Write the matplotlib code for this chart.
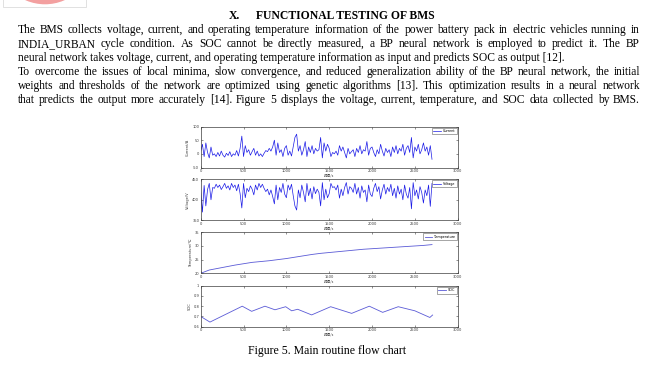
import matplotlib
matplotlib.use("Agg")
import matplotlib.pyplot as plt
from matplotlib.patches import Ellipse, Rectangle

# =====================================================
# Page / figure geometry (pixels)
# =====================================================
W, H = 656, 366
SERIF = "Liberation Serif"
CJK = ["Noto Sans CJK SC", "DejaVu Sans"]
LINE_BLUE = "#1a1ae6"
SMOOTH_BLUE = "#5a5ad6"
FRAME = "#3c3c3c"

# =====================================================
# Data
# =====================================================
t_fast = list(range(0, 2701, 20))

current = [
    10, 35, -10, 40, 5, -15, 25, -5, 0, -10,
    5, -8, 10, -5, -12, 2, -6, 8, -10, 0,
    -5, 12, -8, 20, 65, -10, 30, 5, 15, -5,
    8, 20, -5, 10, -8, 0, -10, 2, 12, 8,
    20, 10, 25, 50, -5, 40, 5, 15, -10, 20,
    30, -5, 10, -8, 25, 60, 72, 10, 30, -5,
    15, 45, -10, 25, 5, 30, 0, 20, 10, 15,
    60, -15, 40, 10, 35, 20, -10, 5, 0, 10,
    -5, 30, 10, 25, 5, -15, 20, 0, 8, 15,
    -10, 20, 5, 30, 0, 15, 10, 45, -5, 20,
    25, 5, -10, 15, 0, 35, 10, -8, 20, 5,
    15, -10, 25, 5, 30, 0, 20, 10, 35, -5,
    20, 30, 5, 60, -15, 25, 10, 35, 0, 15,
    40, 10, 25, -5, 30, -20,
]

voltage = [
    420, 370, 435, 385, 425, 440, 400, 430, 428, 438,
    430, 436, 425, 432, 440, 428, 434, 424, 440, 430,
    436, 422, 438, 415, 380, 440, 405, 428, 420, 434,
    426, 412, 436, 424, 440, 430, 438, 428, 420, 426,
    412, 424, 408, 390, 436, 400, 430, 418, 440, 414,
    405, 436, 424, 438, 410, 385, 375, 424, 405, 436,
    418, 395, 440, 410, 428, 402, 432, 415, 426, 418,
    385, 442, 400, 426, 405, 415, 440, 430, 432, 424,
    436, 404, 426, 410, 430, 442, 414, 432, 428, 418,
    440, 414, 430, 404, 434, 418, 424, 395, 436, 414,
    408, 428, 440, 420, 432, 402, 424, 438, 414, 430,
    420, 438, 410, 428, 404, 434, 414, 426, 400, 436,
    414, 404, 430, 378, 442, 410, 424, 402, 432, 418,
    392, 424, 410, 436, 384, 440,
]

t_temp = list(range(0, 2701, 100))
temperature = [
    20.0, 21.2, 21.8, 22.4, 23.0, 23.5, 24.0, 24.3, 24.6, 25.0,
    25.4, 25.9, 26.4, 26.9, 27.3, 27.6, 27.9, 28.2, 28.5, 28.8,
    29.0, 29.2, 29.4, 29.6, 29.8, 30.0, 30.2, 30.5,
]

soc_t = [0, 108, 485, 595, 750, 867, 992, 1062, 1132, 1295,
         1517, 1762, 1968, 2124, 2306, 2500, 2675, 2707]
soc = [0.70, 0.645, 0.80, 0.75, 0.80, 0.765, 0.795, 0.755, 0.77, 0.715,
       0.795, 0.73, 0.80, 0.74, 0.795, 0.755, 0.69, 0.714]

x_ticks = [0, 500, 1000, 1500, 2000, 2500, 3000]

# =====================================================
# Page text
# =====================================================
TITLE_NUM = "X."
TITLE = "FUNCTIONAL TESTING OF BMS"
BODY = [
    ("The BMS collects voltage, current, and operating temperature information of the power battery pack in electric vehicles running in", True),
    ("INDIA_URBAN cycle condition. As SOC cannot be directly measured, a BP neural network is employed to predict it. The BP", True),
    ("neural network takes voltage, current, and operating temperature information as input and predicts SOC as output [12].", False),
    ("To overcome the issues of local minima, slow convergence, and reduced generalization ability of the BP neural network, the initial", True),
    ("weights and thresholds of the network are optimized using genetic algorithms [13]. This optimization results in a neural network", True),
    ("that predicts the output more accurately [14]. Figure 5 displays the voltage, current, temperature, and SOC data collected by BMS.", True),
]
CAPTION = "Figure 5. Main routine flow chart"

fig = plt.figure(figsize=(W / 100, H / 100), dpi=100)
page = fig.add_axes([0, 0, 1, 1])
page.set_xlim(0, W)
page.set_ylim(H, 0)
page.axis("off")
renderer = fig.canvas.get_renderer()


def text_width(s, size, weight="normal"):
    t = page.text(0, 0, s, fontsize=size, family=SERIF, fontweight=weight)
    w = t.get_window_extent(renderer).width
    t.remove()
    return w


def fit_size(s, target, weight="normal"):
    return 10 * target / text_width(s, 10, weight)


# logo remnant at the top left
page.add_patch(Rectangle((3, -5), 83, 12.3, fill=False, edgecolor="#dcdcdc", lw=0.6))
page.add_patch(Ellipse((45, -44.4), 97.4, 97.4, color="#f3a0a0", lw=0))

# heading
t_size = fit_size(TITLE, 178, "bold")
page.text(229, 16, TITLE_NUM, fontsize=t_size, family=SERIF, fontweight="bold",
          ha="left", va="center")
page.text(255.5, 16, TITLE, fontsize=t_size, family=SERIF, fontweight="bold",
          ha="left", va="center")

# body text, justified
b_size = fit_size(BODY[0][0], 604)
X0, X1 = 18, 640
for i, (line, justify) in enumerate(BODY):
    y = 30 + i * 14
    if not justify:
        page.text(X0, y, line, fontsize=b_size, family=SERIF, ha="left", va="center")
        continue
    words = line.split()
    widths = [text_width(w, b_size) for w in words]
    natural = text_width(line, b_size)
    space = (natural - sum(widths)) / (len(words) - 1)
    gap = max(space * 0.8, (X1 - X0 - sum(widths)) / (len(words) - 1))
    x = X0
    for w, ww in zip(words, widths):
        page.text(x, y, w, fontsize=b_size, family=SERIF, ha="left", va="center")
        x += ww + gap

# caption
c_size = fit_size(CAPTION, 157)
page.text(327, 351, CAPTION, fontsize=c_size, family=SERIF, ha="center", va="center")

# =====================================================
# The four stacked panels
# =====================================================
AX_L, AX_R, AX_H = 200.7, 457.7, 41

panels = [
    (t_fast, current, "Current/A", "Current", (-50, 100), [-50, 0, 50, 100],
     ["-50", "0", "50", "100"], 126.5, LINE_BLUE, 0.5),
    (t_fast, voltage, "Voltage/V", "Voltage", (350, 450), [350, 400, 450],
     ["350", "400", "450"], 179.3, LINE_BLUE, 0.5),
    (t_temp, temperature, "Temperature/℃", "Temperature", (20, 35), [20, 25, 30, 35],
     ["20", "25", "30", "35"], 232.3, SMOOTH_BLUE, 0.6),
    (soc_t, soc, "SOC", "SOC", (0.6, 1.0), [0.6, 0.7, 0.8, 0.9, 1.0],
     ["0.6", "0.7", "0.8", "0.9", "1"], 285.7, SMOOTH_BLUE, 0.6),
]

for xs, ys, ylabel, name, ylim, yt, ytl, top, col, lw in panels:
    ax = fig.add_axes([AX_L / W, 1 - (top + AX_H) / H, (AX_R - AX_L) / W, AX_H / H])
    ax.plot(xs, ys, color=col, lw=lw, label=name)
    ax.set_xlim(0, 3000)
    ax.set_ylim(*ylim)
    ax.set_xticks(x_ticks)
    ax.set_yticks(yt)
    ax.set_yticklabels(ytl)
    ax.tick_params(direction="in", length=1.5, width=0.4, labelsize=2.6,
                   pad=1, top=True, right=True, colors=FRAME)
    for s in ax.spines.values():
        s.set_linewidth(0.5)
        s.set_color(FRAME)
    ax.set_ylabel(ylabel, fontsize=2.6, labelpad=1.5, color=FRAME)
    ax.set_xlabel("时间/s", fontsize=2.6, labelpad=0.6, family=CJK, color=FRAME)
    leg = ax.legend(loc="upper right", fontsize=2.4, frameon=True, fancybox=False,
                    edgecolor=FRAME, borderpad=0.4, handlelength=2.2,
                    handletextpad=0.6, borderaxespad=0.35)
    leg.get_frame().set_linewidth(0.4)

fig.savefig("out.png", dpi=100)
